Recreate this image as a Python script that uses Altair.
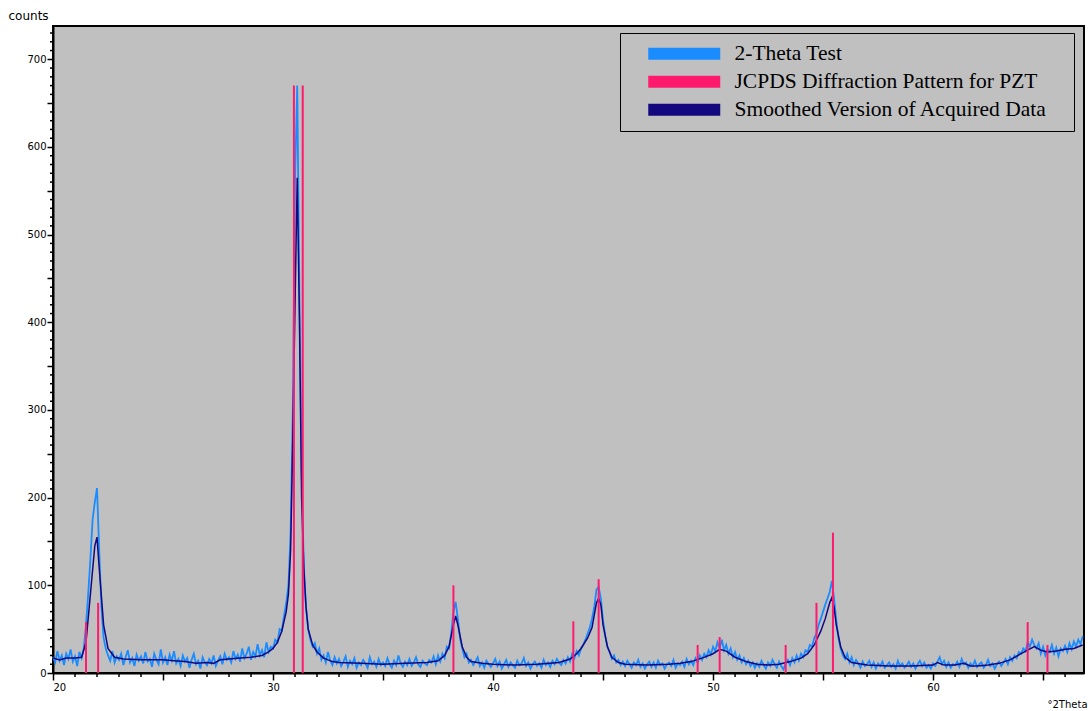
import altair as alt
import numpy as np
import pandas as pd

# --- measured counts, 0.1 degree steps from 20.0 to 66.8 (2-theta) ---
RAW_START = 20.0
RAW_STEP = 0.1
raw_counts = [
    18, 12, 25, 14, 20, 9, 22, 16, 27, 13,        # 20
    19, 8, 24, 17, 28, 55, 90, 130, 175, 195,     # 21
    211, 140, 75, 40, 28, 20, 14, 25, 12, 19,     # 22
    15, 22, 9, 18, 26, 12, 17, 8, 21, 14,         # 23
    19, 11, 24, 13, 16, 7, 22, 15, 10, 27,        # 24
    12, 18, 9, 21, 14, 25, 11, 16, 8, 20,         # 25
    13, 17, 6, 15, 22, 10, 14, 5, 18, 12,         # 26
    9, 16, 11, 20, 8, 14, 19, 10, 22, 15,         # 27
    18, 12, 25, 16, 21, 13, 28, 17, 22, 30,       # 28
    15, 24, 19, 33, 20, 26, 18, 35, 24, 30,       # 29
    28, 38, 35, 50, 48, 65, 80, 100, 160, 300,    # 30
    560, 670, 430, 230, 120, 75, 50, 38, 30, 34,  # 31
    22, 28, 15, 20, 12, 24, 14, 9, 18, 11,        # 32
    16, 8, 13, 19, 7, 14, 10, 17, 6, 12,          # 33
    9, 15, 11, 6, 18, 10, 13, 7, 16, 9,           # 34
    12, 8, 17, 10, 6, 14, 9, 20, 11, 7,           # 35
    13, 9, 16, 8, 12, 18, 10, 7, 14, 11,          # 36
    9, 15, 12, 19, 10, 20, 13, 22, 17, 30,        # 37
    28, 45, 70, 81, 62, 40, 28, 18, 22, 12,       # 38
    15, 9, 13, 18, 8, 12, 6, 14, 10, 7,           # 39
    11, 16, 8, 13, 5, 10, 15, 7, 12, 9,           # 40
    6, 14, 9, 11, 17, 8, 12, 5, 10, 13,           # 41
    8, 11, 6, 15, 9, 12, 7, 14, 10, 16,           # 42
    12, 9, 15, 11, 18, 13, 22, 17, 25, 20,        # 43
    28, 32, 38, 45, 52, 62, 75, 95, 98, 85,       # 44
    60, 42, 30, 24, 16, 20, 12, 15, 9, 13,        # 45
    8, 14, 10, 6, 12, 9, 15, 7, 11, 5,            # 46
    10, 13, 7, 12, 6, 14, 9, 11, 5, 10,           # 47
    12, 8, 15, 6, 11, 9, 13, 7, 16, 10,           # 48
    14, 9, 17, 12, 20, 15, 22, 18, 26, 21,        # 49
    30, 25, 35, 28, 38, 26, 32, 22, 28, 18,       # 50
    24, 15, 20, 12, 17, 10, 14, 8, 12, 6,         # 51
    11, 7, 14, 9, 5, 12, 8, 15, 10, 6,            # 52
    13, 8, 4, 11, 15, 9, 17, 12, 20, 14,          # 53
    22, 18, 26, 24, 32, 30, 40, 45, 55, 62,       # 54
    70, 78, 85, 92, 105, 85, 60, 40, 28, 20,      # 55
    16, 22, 12, 18, 9, 15, 11, 6, 13, 8,          # 56
    10, 14, 7, 12, 5, 11, 8, 13, 6, 9,            # 57
    12, 7, 10, 5, 14, 8, 11, 6, 9, 13,            # 58
    7, 11, 5, 10, 14, 8, 12, 6, 9, 5,             # 59
    11, 8, 13, 18, 10, 14, 7, 12, 6, 10,          # 60
    9, 13, 7, 16, 10, 12, 6, 11, 8, 14,           # 61
    7, 10, 12, 6, 9, 15, 8, 11, 5, 10,            # 62
    13, 8, 12, 16, 10, 18, 14, 20, 17, 24,        # 63
    22, 28, 25, 35, 30, 38, 32, 28, 34, 22,       # 64
    30, 20, 27, 24, 32, 22, 29, 19, 28, 25,       # 65
    31, 24, 34, 27, 36, 30, 38, 33, 42,           # 66
]

# --- smoothed trace (2-theta, counts) ---
smooth_theta = [
    20.0, 20.3, 20.6, 21.0, 21.3, 21.5, 21.7, 21.9, 22.0, 22.1, 22.3, 22.5, 22.8,
    23.2, 24.0, 25.0, 25.5, 26.0, 26.5, 27.0, 27.3, 27.6, 28.0, 28.5, 29.0, 29.5,
    29.8, 30.0, 30.2, 30.4, 30.6, 30.7, 30.8, 30.9, 31.0, 31.1, 31.2, 31.3, 31.4,
    31.5, 31.6, 31.8, 32.0, 32.3, 32.7, 33.0, 34.0, 35.0, 36.0, 37.0, 37.5, 37.8,
    38.0, 38.2, 38.3, 38.4, 38.6, 38.8, 39.0, 39.5, 40.0, 41.0, 42.0, 43.0, 43.5,
    43.8, 44.0, 44.3, 44.5, 44.7, 44.8, 44.9, 45.0, 45.2, 45.4, 45.7, 46.0, 47.0,
    48.0, 48.5, 49.0, 49.5, 50.0, 50.3, 50.6, 51.0, 51.5, 52.0, 52.5, 53.0, 53.5,
    54.0, 54.3, 54.6, 54.9, 55.1, 55.3, 55.4, 55.5, 55.6, 55.8, 56.0, 56.3, 57.0,
    58.0, 59.0, 60.0, 60.2, 60.5, 61.0, 61.4, 61.7, 62.0, 62.5, 63.0, 63.5, 64.0,
    64.3, 64.6, 64.9, 65.2, 65.6, 66.0, 66.4, 66.8,
]
smooth_counts = [
    17, 15, 17, 17, 18, 35, 90, 145, 155, 120, 55, 28, 18,
    16, 15, 15, 14, 13, 11, 12, 11, 15, 16, 17, 18, 20,
    24, 28, 35, 48, 70, 90, 140, 270, 420, 565, 405, 200, 120,
    75, 50, 32, 24, 17, 13, 12, 11, 10, 11, 12, 14, 20,
    30, 55, 65, 55, 30, 18, 13, 11, 10, 9, 10, 12, 16,
    22, 28, 40, 52, 80, 85, 78, 55, 30, 18, 12, 10, 9,
    10, 11, 13, 17, 22, 27, 25, 18, 13, 10, 9, 10, 13,
    17, 22, 32, 48, 62, 80, 86, 75, 55, 30, 18, 12, 9,
    8, 8, 9, 12, 9, 9, 11, 8, 8, 9, 11, 15, 22,
    26, 30, 26, 24, 25, 27, 28, 32,
]

# --- JCPDS reference lines for PZT ---
jcpds_theta = [21.5, 22.05, 30.95, 31.35, 38.2, 43.65, 44.8, 49.3, 50.3, 53.3, 54.7, 55.45, 64.3, 65.2]
jcpds_counts = [58, 80, 670, 670, 100, 59, 107, 32, 41, 32, 80, 160, 58, 32]

SERIES = ["2-Theta Test", "JCPDS Diffraction Pattern for PZT", "Smoothed Version of Acquired Data"]
COLORS = ["#1a8cff", "#ff1a6e", "#14087f"]

X_MIN, X_MAX = 20.0, 66.86
Y_MAX = 738
PLOT_W, PLOT_H = 1031, 647

# tick positions: major ticks come from the axes, minor ones are drawn as short rules
x_major = list(range(20, 67, 5))
x_minor = [v for v in range(20, 67) if v % 5 != 0]
y_major = list(range(0, 740, 50))
y_minor = [v for v in range(0, 740, 10) if v % 50 != 0]

raw_df = pd.DataFrame({
    "theta": RAW_START + RAW_STEP * np.arange(len(raw_counts)),
    "counts": raw_counts,
    "series": SERIES[0],
})
smooth_df = pd.DataFrame({"theta": smooth_theta, "counts": smooth_counts, "series": SERIES[2]})
jcpds_df = pd.DataFrame({"theta": jcpds_theta, "counts": jcpds_counts,
                         "base": 0, "series": SERIES[1]})

x_scale = alt.Scale(domain=[X_MIN, X_MAX], nice=False, zero=False)
y_scale = alt.Scale(domain=[0, Y_MAX], nice=False)

x_axis = alt.Axis(
    values=x_major,
    labelExpr="datum.value % 10 === 0 ? datum.value : ''",
    labelOverlap=False, tickSize=7, labelPadding=2, grid=False,
    title="°2Theta", titleAngle=0, titleAlign="left", titleBaseline="middle",
    titleX=994, titleY=31, titleFontSize=10, titleFontWeight="normal",
)
y_axis = alt.Axis(
    values=y_major,
    labelExpr="datum.value % 100 === 0 ? datum.value : ''",
    labelOverlap=False, tickSize=6, labelPadding=1, grid=False,
    title="counts", titleAngle=0, titleAlign="left", titleBaseline="middle",
    titleX=-45, titleY=-11, titleFontSize=12, titleFontWeight="normal",
)

swatch = "M-6,-0.75H6M-6,-0.25H6M-6,0.25H6M-6,0.75H6"
color = alt.Color(
    "series:N",
    scale=alt.Scale(domain=SERIES, range=COLORS),
    legend=alt.Legend(
        title=None, orient="none", legendX=567, legendY=7,
        symbolType=swatch, symbolSize=144, symbolStrokeWidth=3,
        symbolOffset=43.5,
        labelFont="Liberation Serif", labelFontSize=21.5, labelColor="black",
        labelOffset=39.5, labelLimit=500, rowPadding=5, padding=10,
        labelExpr="datum.label + '\u2800'",
        fillColor="#C0C0C0", strokeColor="black",
    ),
)

raw = alt.Chart(raw_df).mark_line(strokeWidth=1.8).encode(
    x=alt.X("theta:Q", scale=x_scale, axis=x_axis),
    y=alt.Y("counts:Q", scale=y_scale, axis=y_axis),
    color=color,
)
smooth = alt.Chart(smooth_df).mark_line(strokeWidth=1.5).encode(
    x="theta:Q", y="counts:Q", color=color,
)
jcpds = alt.Chart(jcpds_df).mark_rule(strokeWidth=2).encode(
    x="theta:Q", y="base:Q", y2="counts:Q", color=color,
)

x_minor_ticks = alt.Chart(pd.DataFrame({"v": x_minor})).mark_rule(
    color="black", strokeWidth=1.5
).encode(
    x=alt.X("v:Q", scale=x_scale, axis=x_axis),
    y=alt.value(PLOT_H), y2=alt.value(PLOT_H + 4),
)
y_minor_ticks = alt.Chart(pd.DataFrame({"v": y_minor})).mark_rule(
    color="black", strokeWidth=1.5
).encode(
    y=alt.Y("v:Q", scale=y_scale, axis=y_axis),
    x=alt.value(-3), x2=alt.value(0),
)

chart = alt.layer(raw, smooth, jcpds, x_minor_ticks, y_minor_ticks).properties(
    width=PLOT_W, height=PLOT_H, autosize="none",
    padding={"left": 53, "top": 26, "right": 8, "bottom": 38},
    background="white",
).configure_view(
    fill="#C0C0C0", stroke="black", strokeWidth=2,
).configure_axis(
    domainColor="black", domainWidth=2, tickColor="black", tickWidth=1.5,
    labelFont="DejaVu Sans", labelFontSize=10, labelColor="black",
    titleFont="DejaVu Sans", titleColor="black",
)

chart.save("out.html", embed_options={"renderer": "svg", "actions": False})
